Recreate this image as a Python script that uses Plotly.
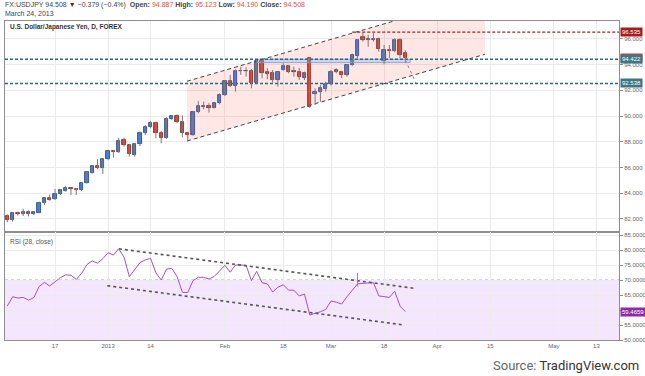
import plotly.graph_objects as go

# ---------------- data ----------------
opens = [82.25, 81.89, 82.46, 82.36, 82.51, 82.36, 82.48, 83.26, 83.60, 83.52,
         83.91, 84.20, 84.38, 84.35, 84.23, 84.79, 85.60, 86.12, 85.94, 86.64,
         87.28, 87.23, 88.12, 87.75, 87.00, 87.81, 88.71, 89.13, 89.44, 88.71,
         88.32, 89.77, 90.01, 89.52, 88.66, 88.55, 90.30, 90.71, 90.79, 90.66,
         91.00, 91.64, 92.71, 92.34, 93.51, 93.51, 93.53, 92.60, 94.26, 93.41,
         93.33, 92.79, 93.61, 93.88, 93.49, 93.46, 92.99, 94.50, 91.72, 91.90,
         92.11, 92.47, 93.59, 93.41, 93.20, 93.98, 94.70, 96.18, 96.00, 95.95,
         96.00, 94.29, 95.17, 95.07, 95.95, 94.887]
highs = [82.36, 82.51, 82.56, 82.79, 82.67, 82.59, 83.34, 83.65, 83.91, 84.33,
         84.30, 84.58, 84.40, 84.40, 84.85, 85.73, 86.14, 86.64, 86.72, 87.31,
         87.31, 88.32, 88.32, 87.81, 87.88, 88.79, 89.31, 89.62, 89.56, 88.84,
         89.91, 90.09, 90.14, 90.06, 88.71, 90.40, 91.18, 91.12, 91.00, 91.07,
         91.77, 92.81, 93.20, 93.64, 93.84, 93.80, 93.67, 94.37, 94.37, 93.72,
         93.59, 93.46, 94.11, 93.98, 93.84, 93.77, 93.46, 94.58, 92.16, 92.42,
         92.68, 93.59, 93.72, 93.51, 94.05, 94.86, 96.00, 96.54, 96.31, 96.44,
         96.10, 95.53, 95.53, 96.05, 96.05, 95.123]
lows = [81.74, 81.78, 82.25, 82.23, 82.20, 82.30, 82.44, 83.08, 83.42, 83.47,
        83.86, 84.12, 83.86, 83.86, 84.17, 84.74, 85.52, 85.86, 85.49, 86.56,
        86.76, 87.11, 87.62, 86.84, 86.84, 87.67, 88.53, 89.05, 88.27, 87.88,
        88.24, 89.70, 89.44, 88.35, 88.14, 88.47, 90.22, 90.53, 90.27, 90.61,
        90.92, 91.56, 92.26, 91.90, 93.20, 93.07, 92.16, 92.52, 92.94, 92.86,
        92.60, 92.29, 93.53, 93.33, 93.07, 92.81, 92.81, 90.65, 90.86, 91.12,
        91.90, 92.37, 93.33, 92.94, 93.07, 93.90, 94.50, 95.79, 95.40, 95.79,
        95.01, 94.03, 94.50, 94.96, 94.50, 94.190]
closes = [81.91, 82.44, 82.36, 82.51, 82.36, 82.51, 83.26, 83.60, 83.49, 83.91,
          84.23, 84.38, 84.35, 84.25, 84.79, 85.63, 86.09, 85.96, 86.64, 87.26,
          87.21, 88.09, 87.75, 87.03, 87.81, 88.71, 89.13, 89.44, 88.71, 88.32,
          89.77, 90.01, 89.56, 88.66, 88.55, 90.32, 90.79, 90.76, 90.66, 91.00,
          91.64, 92.71, 92.34, 93.53, 93.53, 93.53, 92.60, 94.26, 93.38, 93.28,
          92.79, 93.41, 93.88, 93.46, 93.46, 93.02, 93.33, 90.73, 91.90, 92.16,
          92.47, 93.46, 93.41, 93.20, 93.98, 94.75, 95.92, 95.92, 95.95, 95.97,
          95.20, 95.14, 95.09, 95.95, 94.75, 94.508]
rsi = [61.3, 64.4, 64.0, 64.2, 63.3, 64.1, 67.8, 69.2, 68.0, 69.4,
       70.8, 71.7, 71.6, 70.2, 72.2, 75.1, 76.4, 75.6, 77.1, 79.1,
       78.3, 80.4, 77.6, 71.1, 73.3, 75.8, 76.7, 77.2, 72.4, 70.0,
       73.6, 73.9, 71.1, 65.9, 65.8, 69.8, 70.9, 70.9, 70.3, 71.2,
       73.0, 74.9, 72.6, 75.0, 75.0, 74.9, 69.8, 72.9, 69.1, 68.7,
       66.0, 67.6, 68.4, 66.6, 66.6, 64.7, 65.3, 58.3, 58.9, 59.4,
       60.2, 63.0, 62.6, 62.0, 64.4, 66.7, 68.7, 68.9, 69.0, 69.1,
       64.7, 64.4, 64.2, 66.3, 61.3, 59.4659]
bar_index = list(range(len(opens)))

tick_index = [9, 19, 27, 41, 52, 61, 71, 81, 91, 103, 111]
tick_text = ["17", "2013", "14", "Feb", "18", "Mar", "18", "Apr", "15", "May", "13"]

# drawings (chart annotations in data coordinates)
level_red = 96.535
level_mid = 94.422
level_low = 92.538
last_price = 94.508
channel_x = [33.86, 90.0]
channel_lower = [88.06, 94.81]
channel_upper = [92.71, 99.46]
red_level_start = 65.0
box_x = [47.05, 75.9]
box_y = [94.16, 94.42]
arrow_x = [75.0, 77.0]
arrow_y = [94.37, 92.58]
rsi_upper_x = [21.05, 76.8]
rsi_upper_y = [80.4, 67.2]
rsi_lower_x = [18.84, 74.75]
rsi_lower_y = [68.1, 55.0]
rsi_marker_x = 66.0
rsi_marker_y = [67.8, 72.4]

X_RANGE = [-0.43, 115.26]
UP_FILL, UP_LINE = "#3f80e0", "#1d3f78"
DN_FILL, DN_LINE = "#dc4230", "#7e1c12"

fig = go.Figure()

# channel fill
fig.add_trace(go.Scatter(
    x=[channel_x[0], channel_x[1], channel_x[1], channel_x[0], channel_x[0]],
    y=[channel_lower[0], channel_lower[1], channel_upper[1], channel_upper[0], channel_lower[0]],
    fill="toself", fillcolor="rgba(244,67,54,0.13)", line=dict(width=0),
    mode="lines", hoverinfo="skip", showlegend=False, xaxis="x", yaxis="y"))

# box
fig.add_trace(go.Scatter(
    x=[box_x[0], box_x[1], box_x[1], box_x[0], box_x[0]],
    y=[box_y[0], box_y[0], box_y[1], box_y[1], box_y[0]],
    fill="toself", fillcolor="rgba(140,175,235,0.35)",
    line=dict(color="#86a8e4", width=1), mode="lines",
    hoverinfo="skip", showlegend=False))

# horizontal levels
for lvl, x0, col in [(level_mid, X_RANGE[0], "#2a6a7c"), (level_low, X_RANGE[0], "#2a6a7c"),
                     (level_red, red_level_start, "#a82222")]:
    fig.add_trace(go.Scatter(x=[x0, X_RANGE[1]], y=[lvl, lvl], mode="lines",
                             line=dict(color=col, width=1.3, dash="3px,2px"),
                             hoverinfo="skip", showlegend=False))

# channel lines
for ys in (channel_lower, channel_upper):
    fig.add_trace(go.Scatter(x=channel_x, y=ys, mode="lines",
                             line=dict(color="#444444", width=1, dash="4px,3px"),
                             hoverinfo="skip", showlegend=False))

# wicks
wx, wy = [], []
for i, h, l in zip(bar_index, highs, lows):
    wx += [i, i, None]
    wy += [l, h, None]
fig.add_trace(go.Scatter(x=wx, y=wy, mode="lines", line=dict(color="#7a7a7a", width=1),
                         hoverinfo="skip", showlegend=False))

# bodies
base = [min(o, c) for o, c in zip(opens, closes)]
height = [max(abs(c - o), 0.015) for o, c in zip(opens, closes)]
fills = [UP_FILL if c >= o else DN_FILL for o, c in zip(opens, closes)]
lines = [UP_LINE if c >= o else DN_LINE for o, c in zip(opens, closes)]
fig.add_trace(go.Bar(x=bar_index, y=height, base=base, width=0.62,
                     marker=dict(color=fills, line=dict(color=lines, width=0.8)),
                     hoverinfo="skip", showlegend=False))

# arrow line
fig.add_trace(go.Scatter(x=arrow_x, y=arrow_y, mode="lines",
                         line=dict(color="#8a8a8a", width=1, dash="dot"),
                         hoverinfo="skip", showlegend=False))

# RSI
fig.add_trace(go.Scatter(x=bar_index, y=rsi, mode="lines",
                         line=dict(color="#a94fc6", width=1),
                         hoverinfo="skip", showlegend=False, xaxis="x2", yaxis="y2"))
for xs, ys in ((rsi_upper_x, rsi_upper_y), (rsi_lower_x, rsi_lower_y)):
    fig.add_trace(go.Scatter(x=xs, y=ys, mode="lines",
                             line=dict(color="#555555", width=1.6, dash="dot"),
                             hoverinfo="skip", showlegend=False, xaxis="x2", yaxis="y2"))
fig.add_trace(go.Scatter(x=[rsi_marker_x, rsi_marker_x], y=rsi_marker_y, mode="lines",
                         line=dict(color="#e07048", width=1),
                         hoverinfo="skip", showlegend=False, xaxis="x2", yaxis="y2"))

H_TOP, H_BOT = 21, 36
split = (340 - 232) / 319.0
axis_common = dict(showline=True, linecolor="#8f8f8f", linewidth=1, mirror=True,
                   gridcolor="#ebebeb", zeroline=False)
fig.update_layout(
    width=645, height=376,
    margin=dict(l=5, r=26, t=H_TOP, b=H_BOT, autoexpand=False),
    paper_bgcolor="white", plot_bgcolor="white",
    font=dict(family="Liberation Sans, Arial, sans-serif", color="#555555", size=6),
    showlegend=False, bargap=0,
    xaxis=dict(domain=[0, 1], anchor="y", range=X_RANGE, tickvals=tick_index,
               showticklabels=False, ticks="", **axis_common),
    yaxis=dict(domain=[split, 1], anchor="x", side="right", range=[80.98, 97.40],
               tick0=0, dtick=2, tickformat=".3f", ticks="outside", ticklen=3,
               tickcolor="#8f8f8f", tickfont=dict(size=6, color="#666666"), **axis_common),
    xaxis2=dict(domain=[0, 1], anchor="y2", range=X_RANGE, matches="x",
                tickvals=tick_index, ticktext=tick_text, ticks="",
                tickfont=dict(size=6, color="#666666"), **axis_common),
    yaxis2=dict(domain=[0, split], anchor="x2", side="right", range=[50, 86],
                tick0=0, dtick=5, tickformat=".4f", ticks="outside", ticklen=3,
                tickcolor="#8f8f8f", tickfont=dict(size=6, color="#666666"), **axis_common),
)

# RSI band
fig.add_shape(type="rect", xref="paper", yref="y2", x0=0, x1=1, y0=30, y1=70,
              fillcolor="#f4e6fd", line=dict(width=0), layer="below")
fig.add_shape(type="line", xref="paper", yref="y2", x0=0, x1=1, y0=70, y1=70,
              line=dict(color="#b7a0c6", width=1, dash="dot"), layer="below")

# price tags
def tag(y, text, bg, yref="y"):
    fig.add_annotation(xref="paper", yref=yref, x=1, y=y, xanchor="left", xshift=1,
                       text=text, showarrow=False, bgcolor=bg, borderpad=1,
                       font=dict(size=6, color="white"))

tag(last_price, f"{last_price:.3f}", "#d23a2a")
tag(level_red, f"{level_red:.3f}", "#a81c1c")
tag(level_mid, f"{level_mid:.3f}", "#3b7787")
tag(level_low, f"{level_low:.3f}", "#3b7787")
tag(rsi[-1], f"{rsi[-1]:.4f}", "#8e2aa6", yref="y2")

RED = "#e0533b"
header = ("FX:USDJPY 94.508 <span style='color:#8b1010'>▼</span> −0.379 (−0.4%)  "
          f"<b>Open:</b> <span style='color:{RED}'>94.887</span> "
          f"<b>High:</b> <span style='color:{RED}'>95.123</span> "
          f"<b>Low:</b> <span style='color:{RED}'>94.190</span> "
          f"<b>Close:</b> <span style='color:{RED}'>94.508</span>")
fig.add_annotation(xref="paper", yref="paper", x=-0.004, y=(340 - 5) / 319.0,
                   xanchor="left", yanchor="middle", text=header, showarrow=False,
                   font=dict(size=7, color="#444444"))
fig.add_annotation(xref="paper", yref="paper", x=-0.004, y=(340 - 13) / 319.0,
                   xanchor="left", yanchor="middle", text="March 24, 2013", showarrow=False,
                   font=dict(size=7, color="#444444"))
fig.add_annotation(xref="paper", yref="paper", x=(8 - 5) / 614.0, y=(340 - 27) / 319.0,
                   xanchor="left", yanchor="middle", text="<b>U.S. Dollar/Japanese Yen, D, FOREX</b>",
                   showarrow=False, font=dict(size=6.5, color="#333333"))
fig.add_annotation(xref="paper", yref="paper", x=(8 - 5) / 614.0, y=(340 - 242) / 319.0,
                   xanchor="left", yanchor="middle", text="RSI (28, close)",
                   showarrow=False, font=dict(size=6.5, color="#555555"))
fig.add_annotation(xref="paper", yref="paper", x=(641 - 5) / 614.0, y=(340 - 365) / 319.0,
                   xanchor="right", yanchor="middle",
                   text="Source: <span style='color:#333333'>TradingView.com</span>",
                   showarrow=False, font=dict(size=13, color="#666666", family="Roboto, sans-serif"))

fig.write_html("out.html", config={"displayModeBar": False},
               post_script="document.body.style.margin='0';document.body.style.padding='0';")
